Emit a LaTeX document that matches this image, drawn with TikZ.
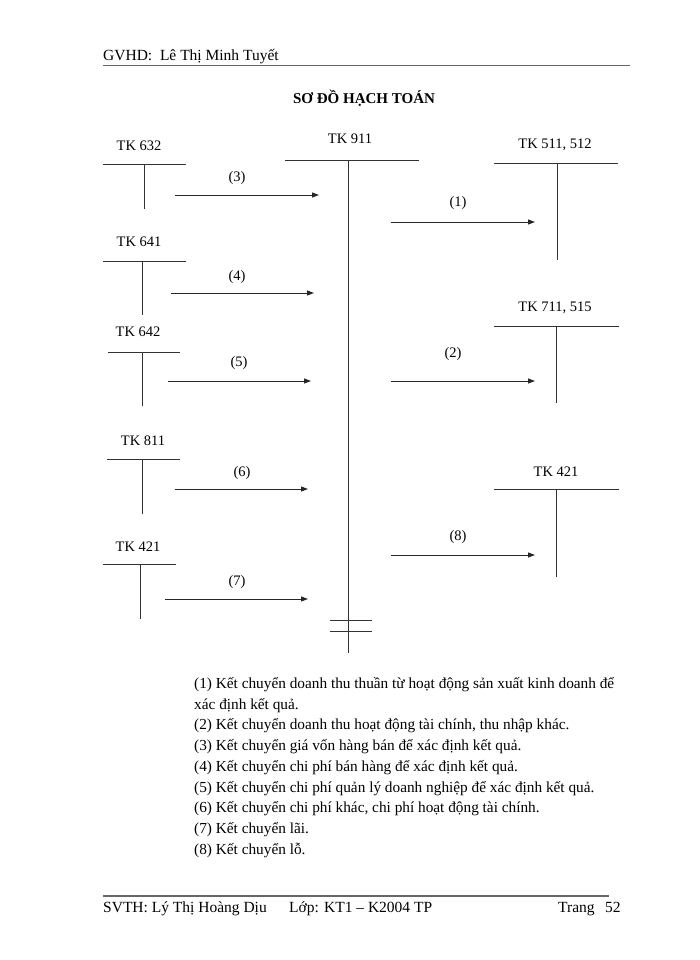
\documentclass[tikz,border=0pt]{standalone}
\usepackage{fontspec}
\setmainfont{Liberation Serif}
\usetikzlibrary{arrows.meta, positioning}
\tikzset{
	line width = .8pt,
	>={Triangle[length=7pt, width=5pt]},
	font = \fontsize{14.5}{17}\selectfont,
	account/.style={inner sep=0pt},
	tee/.style={line width=.9pt, draw=black!80},
	flow/.style={->, line width=1pt, draw=black!85},
	num/.style={inner sep=0pt},
	rule/.style={line width=1.4pt, draw=black!60},
	page text/.style={anchor=base west, inner sep=0pt, font=\fontsize{15.5}{18}\selectfont}
}

\begin{document}
\begin{tikzpicture}[x=1pt, y=-1pt]
	\useasboundingbox (0,0) rectangle (700,960);

	% header and title
	\node[page text] (head) at (103,61) {GVHD:\ \ Lê Thị Minh Tuyết};
	\draw[rule] (103,65.5) -- (630,65.5);
	\node[inner sep=0pt, font=\fontsize{15}{18}\selectfont\bfseries] (title) at (364,98) {SƠ ĐỒ HẠCH TOÁN};

	% left accounts
	\node[account] (k632) at (139,146) {TK 632};
	\draw[tee] (103,164) -- (186,164) (144,164) -- (144,209);
	\node[account] (k641) at (139,242) {TK 641};
	\draw[tee] (103,261) -- (186,261) (142,261) -- (142,315);
	\node[account] (k642) at (138,332) {TK 642};
	\draw[tee] (108,352) -- (180,352) (142,352) -- (142,406);
	\node[account] (k811) at (143,441) {TK 811};
	\draw[tee] (107,459) -- (180,459) (142,459) -- (142,514);
	\node[account] (k421a) at (138,547) {TK 421};
	\draw[tee] (103,564) -- (176,564) (140,564) -- (140,619);

	% TK 911
	\node[account] (k911) at (350,139) {TK 911};
	\draw[tee] (285,160) -- (419,160) (348,160) -- (348,653);
	\draw[tee] (330,620) -- (372,620) (330,631) -- (372,631);

	% right accounts
	\node[account] (k511) at (555,145) {TK 511, 512};
	\draw[tee] (494,163) -- (618,163) (557,163) -- (557,260);
	\node[account] (k711) at (555,308) {TK 711, 515};
	\draw[tee] (494,326) -- (619,326) (556,326) -- (556,403);
	\node[account] (k421b) at (556,472) {TK 421};
	\draw[tee] (494,489) -- (619,489) (556,489) -- (556,577);

	% transfers
	\foreach \n/\xa/\xb/\y/\lx/\ly in {3/175/319/195/237/178, 4/171/314/293/237/277,
		5/168/311/381/239/363, 6/175/308/489/242/473, 7/165/308/599/237/582,
		1/391/535/222/458/203, 2/391/535/381/453/354, 8/391/535/555/458/537}{
		\coordinate (s\n) at (\xa,\y);
		\coordinate (e\n) at (\xb,\y);
		\draw[flow] (s\n) -- (e\n);
		\node[num] (n\n) at (\lx,\ly) {(\n)};
	}

	% legend
	\node[anchor=north west, inner sep=0pt, align=left,
		font=\fontsize{15.3}{20.75}\selectfont] (legend) at (194,677) {%
		(1) Kết chuyển doanh thu thuần từ hoạt động sản xuất kinh doanh để\\
		xác định kết quả.\\
		(2) Kết chuyển doanh thu hoạt động tài chính, thu nhập khác.\\
		(3) Kết chuyển giá vốn hàng bán để xác định kết quả.\\
		(4) Kết chuyển chi phí bán hàng để xác định kết quả.\\
		(5) Kết chuyển chi phí quản lý doanh nghiệp để xác định kết quả.\\
		(6) Kết chuyển chi phí khác, chi phí hoạt động tài chính.\\
		(7) Kết chuyển lãi.\\
		(8) Kết chuyển lỗ.};

	% footer
	\draw[rule] (103,896) -- (609,896);
	\node[page text] (svth) at (103,912) {SVTH: Lý Thị Hoàng Dịu};
	\node[page text] (lop) at (289,912) {Lớp: KT1 – K2004 TP};
	\node[page text] (trang) at (558,912) {Trang};
	\node[page text] (page) at (605,912) {52};
\end{tikzpicture}
\end{document}
